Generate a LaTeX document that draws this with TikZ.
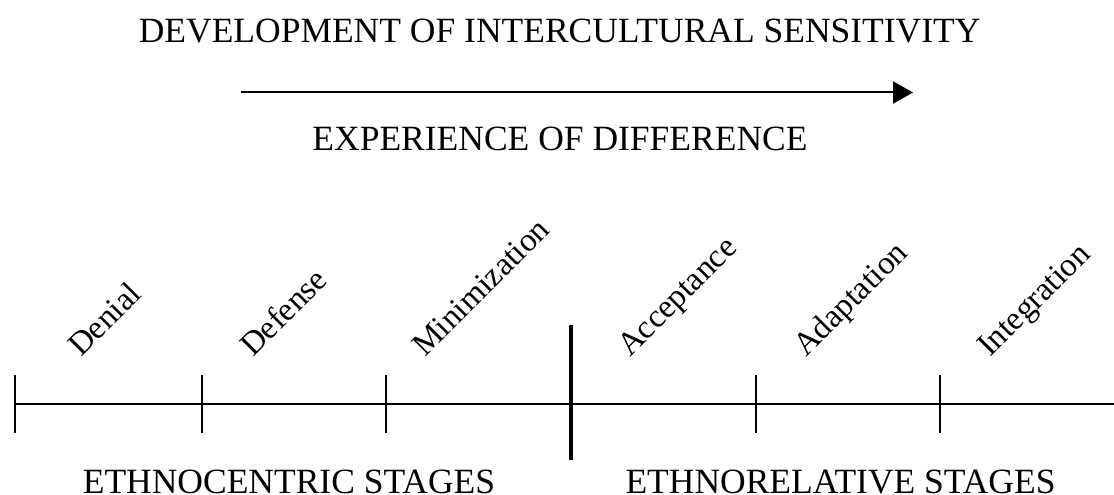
\documentclass[tikz,border=0pt]{standalone}
\usepackage{fontspec}
\setmainfont{Liberation Serif}
\usetikzlibrary{arrows.meta}

\begin{document}
\begin{tikzpicture}[scale=1, font=\fontsize{30.3}{36}\selectfont]
    \useasboundingbox (0,0) rectangle (33.42,14.85);
    \begin{scope}[shift={(0,0)}]
      % Heading, arrow and second line
      \node[anchor=base] (H) at (16.79,13.56){DEVELOPMENT OF INTERCULTURAL SENSITIVITY};
      \coordinate (A0) at (7.23,12.075);
      \coordinate (A1) at (27.39,12.075);
      \draw [line width=1.7pt, -{Triangle[length=0.6cm, width=0.66cm]}] (A0) -- (A1);
      \node[anchor=base] (E) at (16.8,10.32){EXPERIENCE OF DIFFERENCE};
    \end{scope}
    \begin{scope}[shift={(0,2.73)}]
      % Tick points on the scale
      \coordinate (T1) at (0.45,0);
      \coordinate (T2) at (6.06,0);
      \coordinate (T3) at (11.58,0);
      \coordinate (T4) at (17.13,0);
      \coordinate (T5) at (22.68,0);
      \coordinate (T6) at (28.2,0);
      \coordinate (L1) at (33.42,0);
      \draw [line width=1.7pt] (T1) -- (L1);
      \draw [line width=1.9pt] (T1) ++(0,0.87) -- ++(0,-1.74);
      \draw [line width=1.9pt] (T2) ++(0,0.87) -- ++(0,-1.74);
      \draw [line width=1.9pt] (T3) ++(0,0.87) -- ++(0,-1.74);
      \draw [line width=3.6pt] (T4) ++(0,2.37) -- ++(0,-4.05);
      \draw [line width=1.9pt] (T5) ++(0,0.87) -- ++(0,-1.74);
      \draw [line width=1.9pt] (T6) ++(0,0.87) -- ++(0,-1.74);
      % Stage names
      \begin{scope}[font=\fontsize{28}{34}\selectfont]
        \node[anchor=base west, rotate=45, inner sep=0] (S1) at (2.43,1.38){Denial};
        \node[anchor=base west, rotate=45, inner sep=0] (S2) at (7.59,1.38){Defense};
        \node[anchor=base west, rotate=45, inner sep=0] (S3) at (12.75,1.38){Minimization};
        \node[anchor=base west, rotate=45, inner sep=0] (S4) at (18.9,1.38){Acceptance};
        \node[anchor=base west, rotate=45, inner sep=0] (S5) at (24.18,1.38){Adaptation};
        \node[anchor=base west, rotate=45, inner sep=0] (S6) at (29.7,1.38){Integration};
      \end{scope}
    \end{scope}
    \node[anchor=base] (C) at (8.67,0.05){ETHNOCENTRIC STAGES};
    \node[anchor=base] (R) at (25.215,0.05){ETHNORELATIVE STAGES};
  \end{tikzpicture}
\end{document}
